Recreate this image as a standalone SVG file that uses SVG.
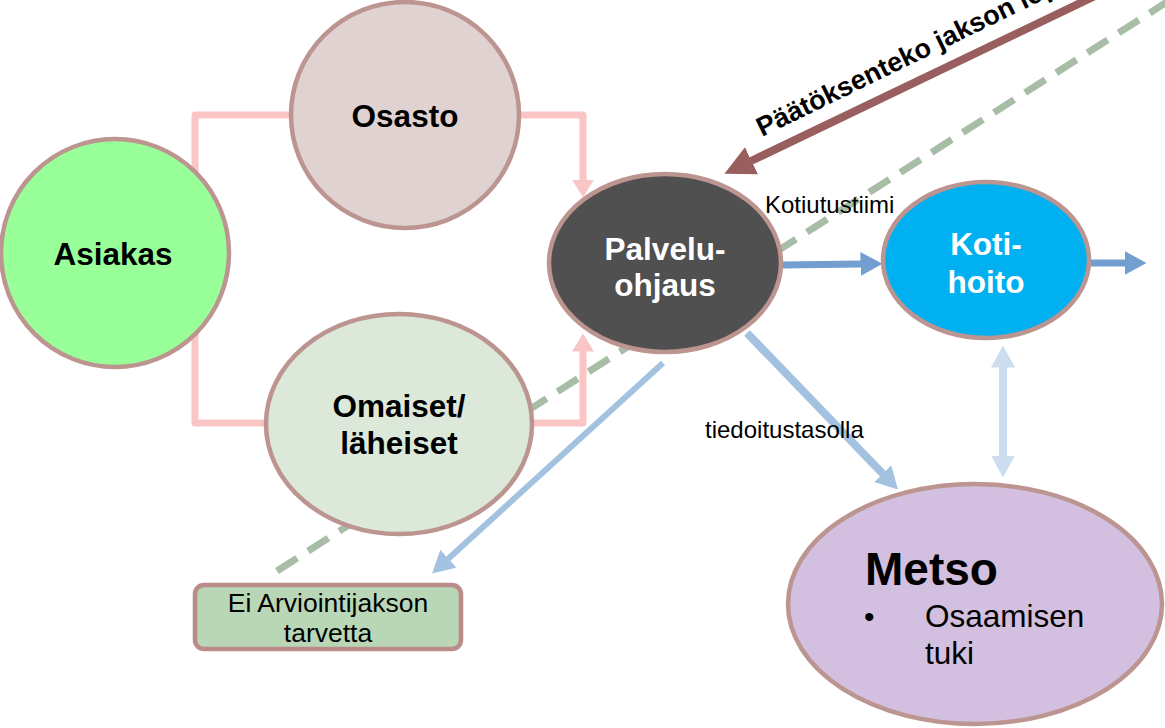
<svg xmlns="http://www.w3.org/2000/svg" width="1165" height="728" viewBox="0 0 1165 728">
<style>
.node{stroke:#BC9490;stroke-width:4.5}
.t{font-family:"Liberation Sans",Arial,sans-serif;font-weight:bold;font-size:31.5px;text-anchor:middle;fill:#000}
.w{fill:#fff}
.lbl{font-family:"Liberation Sans",Arial,sans-serif;font-size:24px;fill:#000}
.pink{fill:none;stroke:#F9C6C5;stroke-width:7;stroke-linejoin:round}
</style>
<defs>
<marker id="aPink" markerUnits="userSpaceOnUse" viewBox="0 0 18 22" markerWidth="18" markerHeight="22" refX="0.5" refY="11" orient="auto"><path d="M0,0 L18,11 L0,22 z" fill="#F9C6C5"/></marker>
<marker id="aBlue" markerUnits="userSpaceOnUse" viewBox="0 0 22 24" markerWidth="22" markerHeight="24" refX="0.5" refY="12" orient="auto"><path d="M0,0 L22,12 L0,24 z" fill="#729ED0"/></marker>
<marker id="aLight" markerUnits="userSpaceOnUse" viewBox="0 0 22 24" markerWidth="22" markerHeight="24" refX="0.5" refY="12" orient="auto"><path d="M0,0 L22,12 L0,24 z" fill="#A3C2E0"/></marker>
<marker id="aPale" markerUnits="userSpaceOnUse" viewBox="0 0 22 24" markerWidth="22" markerHeight="24" refX="0.5" refY="12" orient="auto-start-reverse"><path d="M0,0 L22,12 L0,24 z" fill="#CCDDF0"/></marker>
<marker id="aBrown" markerUnits="userSpaceOnUse" viewBox="0 0 30 30" markerWidth="30" markerHeight="30" refX="0.5" refY="15" orient="auto"><path d="M0,0 L30,15 L0,30 z" fill="#985F5E"/></marker>
</defs>
<g id="connectors">
<path d="M1170,0 L266,578" fill="none" stroke="#A7BDA5" stroke-width="7" stroke-dasharray="24 13"/>
<path class="pink" d="M290,115 H195 V178"/>
<path class="pink" d="M520,115 H583 V180" marker-end="url(#aPink)"/>
<path class="pink" d="M195,330 V423 H268"/>
<path class="pink" d="M532,423 H583 V351" marker-end="url(#aPink)"/>
<path d="M782,265 L861,264" stroke="#729ED0" stroke-width="7" marker-end="url(#aBlue)"/>
<path d="M1090,263 L1125,263" stroke="#729ED0" stroke-width="7" marker-end="url(#aBlue)"/>
<path d="M747,333 L883,474" stroke="#A3C2E0" stroke-width="8" marker-end="url(#aLight)"/>
<path d="M663,363 L448,559" stroke="#A3C2E0" stroke-width="6" marker-end="url(#aLight)"/>
<path d="M1003,367 V456" stroke="#CCDDF0" stroke-width="8" marker-start="url(#aPale)" marker-end="url(#aPale)"/>
<path d="M1097,-5 L751,161" stroke="#985F5E" stroke-width="8" marker-end="url(#aBrown)"/>
<text class="lbl" x="765" y="213" font-size="25.5">Kotiutustiimi</text>
<text class="lbl" x="705" y="438">tiedoitustasolla</text>
<text x="762" y="137" transform="rotate(-26 762 137)" font-family="Liberation Sans, Arial, sans-serif" font-weight="bold" font-size="27" fill="#000">Päätöksenteko jakson lop</text>
</g>
<g id="asiakas"><ellipse class="node" cx="115" cy="253" rx="114" ry="114" fill="#99FF99"/><text class="t" x="113" y="265">Asiakas</text></g>
<g id="osasto"><ellipse class="node" cx="405" cy="115" rx="114" ry="113" fill="#E0D2D1"/><text class="t" x="405" y="127">Osasto</text></g>
<g id="omaiset"><ellipse class="node" cx="399" cy="424" rx="133" ry="110" fill="#DCE9DA"/><text class="t" x="399" y="417">Omaiset/</text><text class="t" x="399" y="454">läheiset</text></g>
<g id="palveluohjaus"><ellipse class="node" cx="665" cy="263" rx="116" ry="89" fill="#505050"/><text class="t w" x="665" y="260">Palvelu-</text><text class="t w" x="665" y="296">ohjaus</text></g>
<g id="kotihoito"><ellipse class="node" cx="986" cy="260" rx="103" ry="78" fill="#00B0F0"/><text class="t w" x="986" y="255">Koti-</text><text class="t w" x="986" y="293">hoito</text></g>
<g id="metso"><ellipse class="node" cx="975" cy="604" rx="187" ry="120" fill="#D3BFE0"/>
<text x="865" y="585" font-family="Liberation Sans, Arial, sans-serif" font-weight="bold" font-size="46" fill="#000">Metso</text>
<text x="864" y="627" font-family="Liberation Sans, Arial, sans-serif" font-size="30" fill="#000">•</text>
<text x="925" y="627" font-family="Liberation Sans, Arial, sans-serif" font-size="31.5" fill="#000">Osaamisen</text>
<text x="925" y="664" font-family="Liberation Sans, Arial, sans-serif" font-size="31.5" fill="#000">tuki</text></g>
<g id="ei-arviointijakson"><rect x="195" y="585" width="266" height="64" rx="9" fill="#B9D7B6" stroke="#B98C8A" stroke-width="4.5"/>
<text x="328" y="612" text-anchor="middle" font-family="Liberation Sans, Arial, sans-serif" font-size="26.5" fill="#000">Ei Arviointijakson</text>
<text x="328" y="642" text-anchor="middle" font-family="Liberation Sans, Arial, sans-serif" font-size="26.5" fill="#000">tarvetta</text></g>
</svg>
